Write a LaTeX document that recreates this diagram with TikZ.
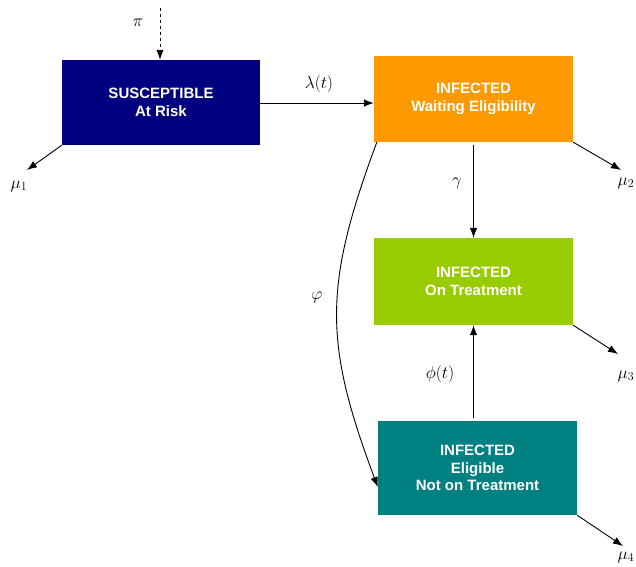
\documentclass[tikz,border=0pt]{standalone}
\usepackage{fontspec}
\setmainfont{Liberation Sans}
\usetikzlibrary{arrows.meta}
\definecolor{navybox}{RGB}{0,0,128}
\definecolor{orangebox}{RGB}{255,153,0}
\definecolor{greenbox}{RGB}{153,204,0}
\definecolor{tealbox}{RGB}{0,128,128}
\tikzset{
  compbox/.style={rectangle, minimum width=199pt, inner sep=0pt, text=white, align=center,
    font=\fontsize{15}{17.5}\selectfont\bfseries},
  flow/.style={draw=black, line width=0.9pt, -{Latex[length=10pt,width=7.5pt]}},
  mlabel/.style={font=\fontsize{17}{19}\selectfont, inner sep=0pt}
}
\begin{document}
\begin{tikzpicture}[x=1pt,y=-1pt]
\useasboundingbox (0,0) rectangle (636,566);
\node[compbox, fill=navybox, minimum width=198pt, minimum height=85pt] (S) at (161,102.5) {SUSCEPTIBLE\\At Risk};
\node[compbox, fill=orangebox, minimum height=86pt] (W) at (473.5,99) {INFECTED\\Waiting Eligibility};
\node[compbox, fill=greenbox, minimum height=87pt] (T) at (473.5,281.5) {INFECTED\\On Treatment};
\node[compbox, fill=tealbox, minimum height=94pt] (E) at (477.5,468) {INFECTED\\Eligible\\Not on Treatment};

\coordinate (pin) at (160,8);
\coordinate (m1) at (27,170);
\coordinate (m2) at (621,170);
\coordinate (m3) at (618,354);
\coordinate (m4) at (623,546);

\draw[flow, dashed] (pin) -- (S.north -| pin);
\node[mlabel] (lpi) at (138,23) {$\pi$};

\draw[flow] (S.east |- 0,103) -- (W.west |- 0,103);
\node[mlabel] (llam) at (319,84) {$\lambda(t)$};

\draw[flow] (S.south west) -- (m1);
\node[mlabel] (lm1) at (19,186) {$\mu_1$};

\draw[flow] (W.south east) -- (m2);
\node[mlabel] (lm2) at (626,183) {$\mu_2$};

\draw[flow, shorten <=3pt] (W.south) -- (T.north);
\node[mlabel] (lgam) at (457,183) {$\gamma$};

\draw[flow, shorten <=3pt] (E.north -| T.south) -- (T.south);
\node[mlabel] (lphi) at (440,374) {$\phi(t)$};

\draw[flow] (T.south east) -- (m3);
\node[mlabel] (lm3) at (626,376) {$\mu_3$};

\draw[flow] (E.south east) -- (m4);
\node[mlabel] (lm4) at (626,557) {$\mu_4$};

\draw[flow] ([xshift=3pt]W.south west) .. controls (323,287) and (324,343) .. (E.west |- 0,487);
\node[mlabel] (lvphi) at (317,297) {$\varphi$};
\end{tikzpicture}
\end{document}
